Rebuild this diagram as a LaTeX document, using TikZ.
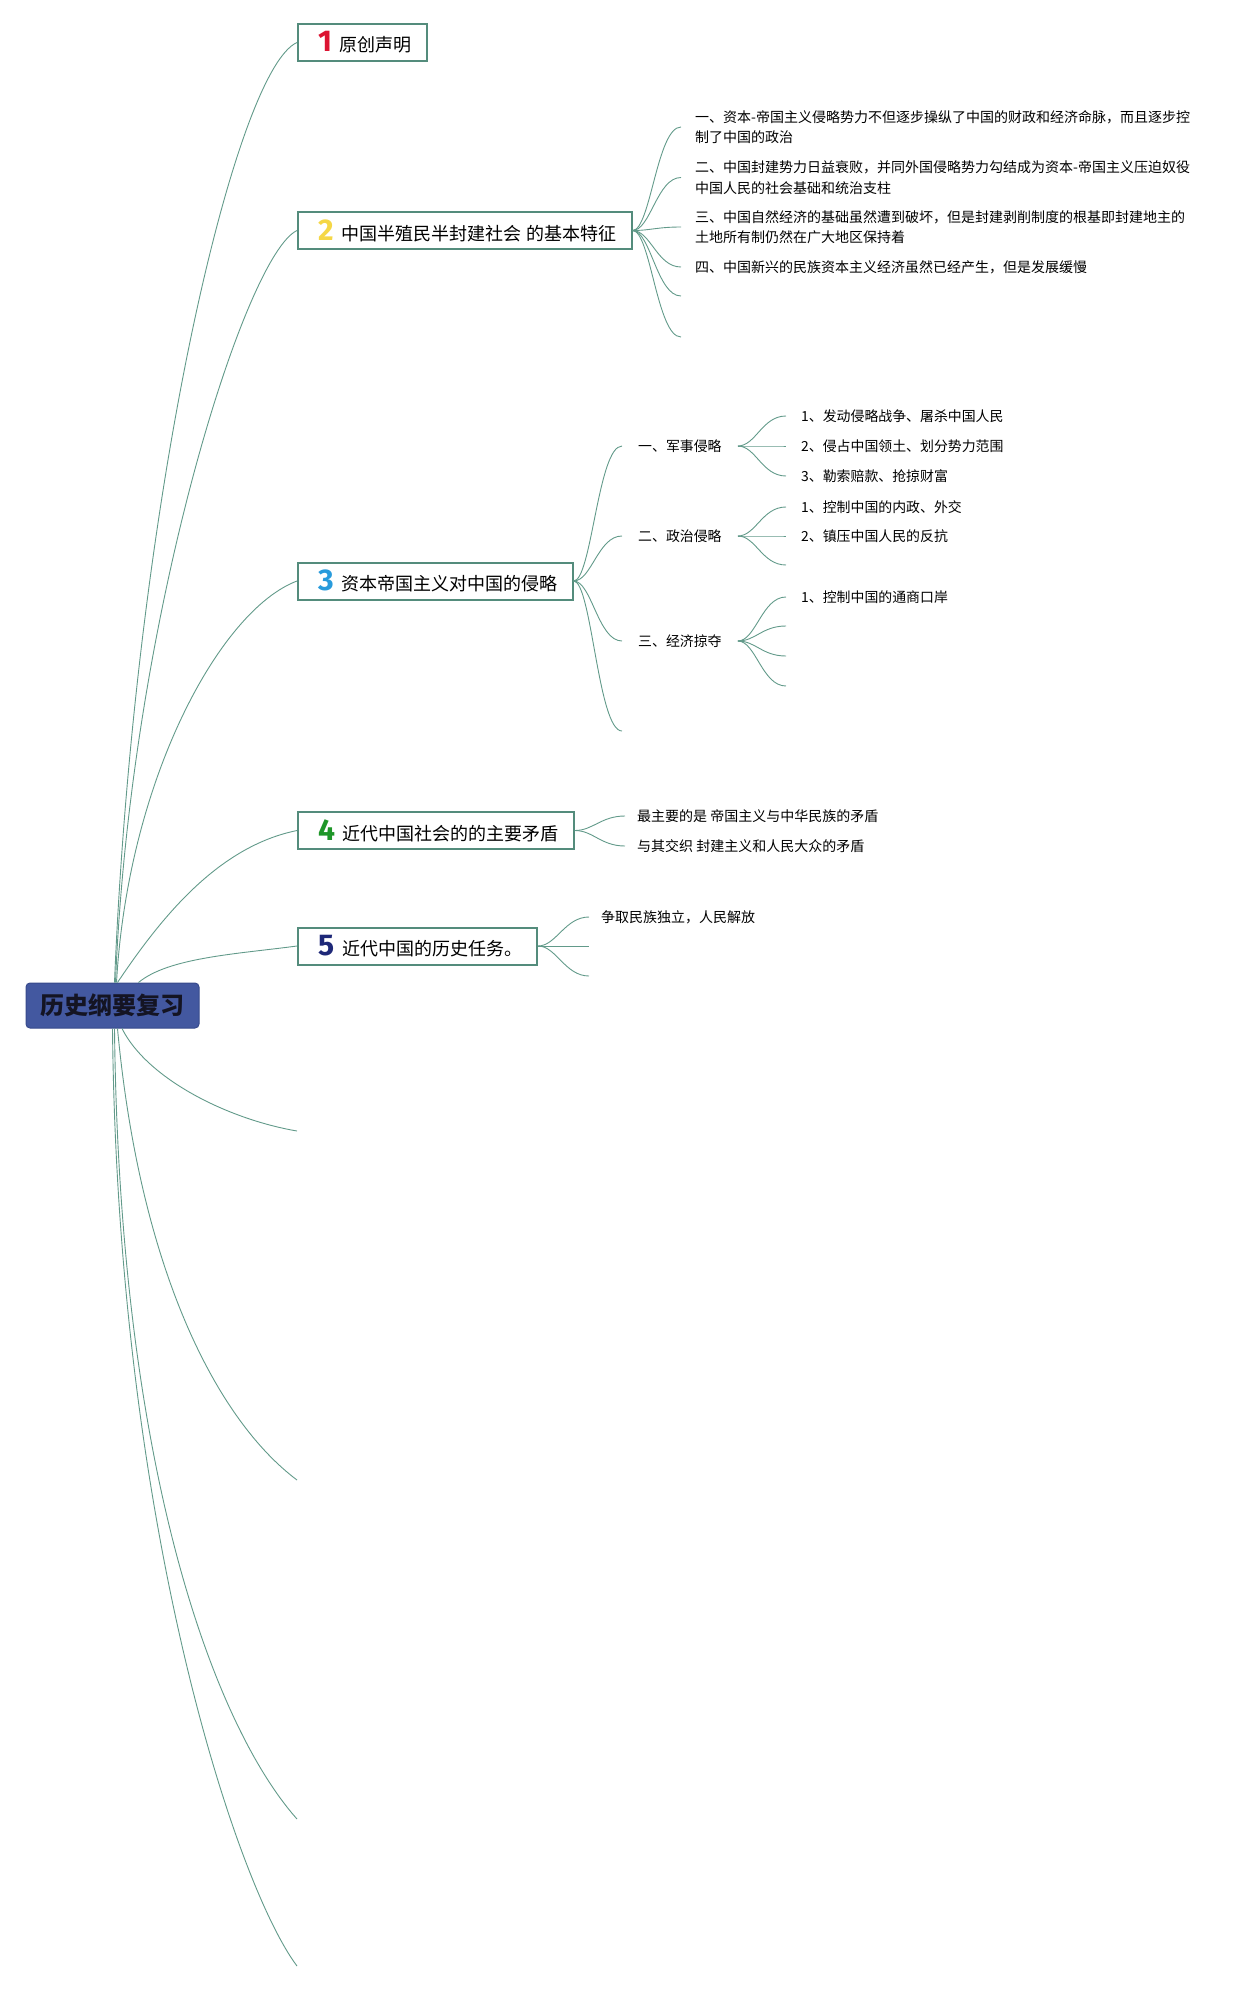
\documentclass[tikz,border=0pt]{standalone}
\usepackage{fontspec}
\setmainfont{Noto Sans CJK SC}
\newfontfamily\numfont{Fira Sans}
\definecolor{lnkc}{RGB}{98,154,138}
\definecolor{bordc}{RGB}{84,140,124}
\definecolor{rootfill}{RGB}{67,88,160}
\definecolor{rootdraw}{RGB}{55,74,140}
\definecolor{roottext}{RGB}{20,20,35}
\definecolor{nred}{RGB}{220,20,50}
\definecolor{nyellow}{RGB}{245,215,70}
\definecolor{nblue}{RGB}{40,155,220}
\definecolor{ngreen}{RGB}{30,150,40}
\definecolor{nnavy}{RGB}{30,40,120}
\newcommand{\bnum}[2]{\hspace*{5pt}{\numfont\bfseries\fontsize{30}{30}\selectfont\textcolor{#1}{#2}}\hspace{8pt}}
\begin{document}
\begin{tikzpicture}[x=1pt,y=-1pt,
  rootbox/.style={draw=rootdraw, fill=rootfill, rounded corners=4pt, line width=1pt,
    minimum width=173pt, minimum height=45pt, inner sep=0pt,
    text=roottext, font=\bfseries\fontsize{24}{26}\selectfont},
  topicbox/.style={draw=bordc, line width=2pt, fill=white, anchor=west,
    minimum height=37pt, inner xsep=15pt, inner ysep=0pt,
    font=\fontsize{18}{22}\selectfont},
  subtxt/.style={anchor=west, inner xsep=9pt, inner ysep=1pt, align=left,
    font=\fontsize{14}{20.5}\selectfont},
  midtxt/.style={anchor=west, inner xsep=16pt, inner ysep=1pt,
    font=\fontsize{13.9}{16}\selectfont},
  leaftxt/.style={anchor=west, inner xsep=15pt, inner ysep=1pt,
    font=\fontsize{13.9}{16}\selectfont},
  smalltxt/.style={anchor=west, inner xsep=12pt, inner ysep=1pt,
    font=\fontsize{14}{16}\selectfont},
  lnk/.style={draw=lnkc, line width=0.9pt},
  kidc/.style={to path={.. controls +(18,0) and +(-24,0) .. (\tikztotarget)}}
]
\useasboundingbox (0,0) rectangle (1256,1994);

% root
\node[rootbox] (root) at (112.5,1005.5) {历史纲要复习};

% topic boxes
\node[topicbox] (b1) at (297,42.5) {\bnum{nred}{1}原创声明};
\node[topicbox] (b2) at (297,230.5) {\bnum{nyellow}{2}中国半殖民半封建社会\hspace{5pt}的基本特征};
\node[topicbox] (b3) at (297,581) {\bnum{nblue}{3}资本帝国主义对中国的侵略};
\node[topicbox] (b4) at (297,830.5) {\bnum{ngreen}{4}近代中国社会的的主要矛盾};
\node[topicbox] (b5) at (297,946) {\bnum{nnavy}{5}近代中国的历史任务。};
\coordinate (m6) at (297,1131);
\coordinate (m7) at (297,1480);
\coordinate (m8) at (297,1819);
\coordinate (m9) at (297,1966);

% main branches
\draw[lnk] ([xshift=2pt]root.north) .. controls +(20,-483) and +(-62,27.5) .. (b1.west);
\draw[lnk] ([xshift=3pt]root.north) .. controls +(14.5,-363) and +(-52,24.5) .. (b2.west);
\draw[lnk] ([xshift=4pt]root.north) .. controls +(11.5,-203) and +(-77,29) .. (b3.west);
\draw[lnk] ([xshift=5pt]root.north) .. controls +(44.5,-66.4) and +(-78.4,16) .. (b4.west);
\draw[lnk] ([xshift=26pt]root.north) .. controls +(30,-25) and +(-60,8) .. (b5.west);
\draw[lnk] ([xshift=9.5pt]root.south) .. controls +(25,50) and +(-70,-12) .. (m6);
\draw[lnk] ([xshift=5pt]root.south) .. controls +(22.5,242) and +(-80,-60) .. (m7);
\draw[lnk] ([xshift=2pt]root.south) .. controls +(5,450) and +(-80,-90) .. (m8);
\draw[lnk] ([xshift=0pt]root.south) .. controls +(5,500) and +(-60,-80) .. (m9);

% branch 2 children
\node[subtxt] (k21) at (686,127) {一、资本-帝国主义侵略势力不但逐步操纵了中国的财政和经济命脉，而且逐步控\\制了中国的政治};
\node[subtxt] (k22) at (686,177.5) {二、中国封建势力日益衰败，并同外国侵略势力勾结成为资本-帝国主义压迫奴役\\中国人民的社会基础和统治支柱};
\node[subtxt] (k23) at (686,227) {三、中国自然经济的基础虽然遭到破坏，但是封建剥削制度的根基即封建地主的\\土地所有制仍然在广大地区保持着};
\node[subtxt] (k24) at (686,267) {四、中国新兴的民族资本主义经济虽然已经产生，但是发展缓慢};
\coordinate (e25) at (681,296);
\coordinate (e26) at (681,337);
\foreach \t in {k21,k22,k23,k24} \draw[lnk] (b2.east) to[kidc] ([xshift=-5pt]\t.west);
\foreach \t in {e25,e26} \draw[lnk] (b2.east) to[kidc] (\t);

% branch 3 children
\node[midtxt] (k31) at (622,446) {一、军事侵略};
\node[midtxt] (k32) at (622,536) {二、政治侵略};
\node[midtxt] (k33) at (622,641) {三、经济掠夺};
\coordinate (e34) at (622,731);
\foreach \t in {k31,k32,k33} \draw[lnk] (b3.east) to[kidc] (\t.west);
\draw[lnk] (b3.east) to[kidc] (e34);

\node[leaftxt] (s311) at (786,416) {1、发动侵略战争、屠杀中国人民};
\node[leaftxt] (s312) at (786,446) {2、侵占中国领土、划分势力范围};
\node[leaftxt] (s313) at (786,476) {3、勒索赔款、抢掠财富};
\foreach \t in {s311,s312,s313} \draw[lnk] (k31.east) to[kidc] (\t.west);

\node[leaftxt] (s321) at (786,507) {1、控制中国的内政、外交};
\node[leaftxt] (s322) at (786,536) {2、镇压中国人民的反抗};
\coordinate (e323) at (786,565);
\foreach \t in {s321,s322} \draw[lnk] (k32.east) to[kidc] (\t.west);
\draw[lnk] (k32.east) to[kidc] (e323);

\node[leaftxt] (s331) at (786,597) {1、控制中国的通商口岸};
\coordinate (e332) at (786,626);
\coordinate (e333) at (786,656);
\coordinate (e334) at (786,686);
\draw[lnk] (k33.east) to[kidc] (s331.west);
\foreach \t in {e332,e333,e334} \draw[lnk] (k33.east) to[kidc] (\t);

% branch 4 children
\node[smalltxt] (k41) at (625,816) {最主要的是 帝国主义与中华民族的矛盾};
\node[smalltxt] (k42) at (625,846) {与其交织 封建主义和人民大众的矛盾};
\foreach \t in {k41,k42} \draw[lnk] (b4.east) to[kidc] (\t.west);

% branch 5 children
\node[smalltxt] (k51) at (589,917) {争取民族独立，人民解放};
\coordinate (e52) at (589,946);
\coordinate (e53) at (589,976);
\draw[lnk] (b5.east) to[kidc] (k51.west);
\foreach \t in {e52,e53} \draw[lnk] (b5.east) to[kidc] (\t);
\end{tikzpicture}
\end{document}
